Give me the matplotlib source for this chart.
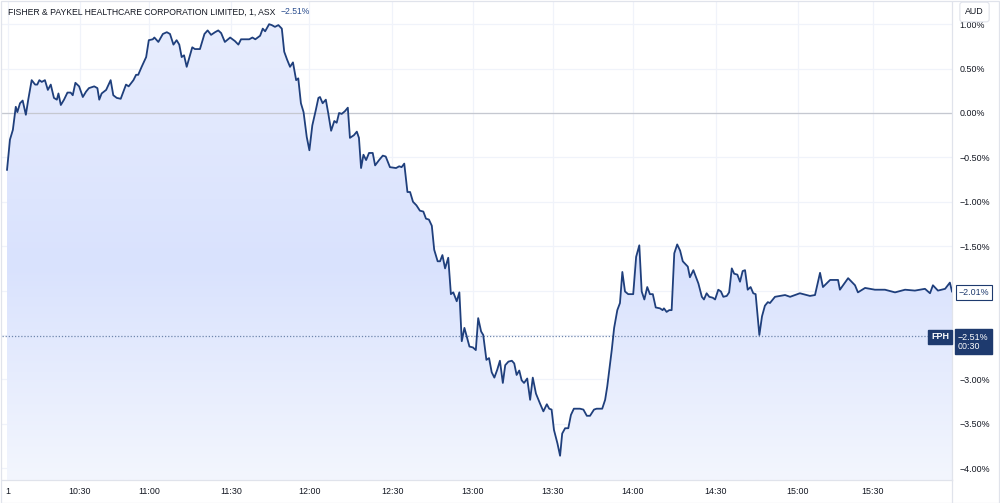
import numpy as np
import matplotlib
matplotlib.use("Agg")
import matplotlib.pyplot as plt
from matplotlib.colors import LinearSegmentedColormap
from matplotlib.patches import PathPatch, Rectangle

# ---------------- data ----------------
title = "FISHER & PAYKEL HEALTHCARE CORPORATION LIMITED, 1, ASX"
change_label = "−2.51%"
currency = "AUD"
symbol = "FPH"
ref_value = -2.51        # dotted reference level
ref_countdown = "00:30"
last_value = -2.01

# session position (1-minute bar index, estimated) and % change
t = [0, 1.1, 2.2, 3.3, 3.9, 4.9, 5.9, 7.1, 8.0, 9.3,
     10.6, 11.4, 12.2, 13.1, 14.3, 15.4, 16.5, 17.7, 18.8, 19.4,
     20.3, 21.5, 22.8, 24.0, 24.8, 25.8, 27.2, 28.6, 29.8, 30.9,
     32.9, 34.1, 34.8, 35.7, 37.4, 39.1, 40.1, 41.4, 42.9, 44.9,
     45.9, 47.7, 48.7, 49.5, 50.8, 52.5, 53.5, 55.0, 55.6, 57.1,
     58.8, 60.3, 61.5, 62.8, 64.0, 65.0, 65.9, 66.8, 67.8, 69.9,
     70.9, 72.8, 74.5, 75.7, 77.0, 78.5, 79.7, 80.8, 82.2, 84.2,
     86.0, 87.3, 88.3, 91.4, 92.6, 93.7, 95.5, 96.5, 97.4, 98.9,
     99.9, 101.1, 102.4, 103.7, 104.6, 105.7, 106.8, 107.9, 109.1, 109.9,
     110.9, 111.9, 113.1, 114.1, 115.2, 116.5, 117.5, 118.1, 119.1, 120.3,
     121.2, 122.3, 123.5, 124.4, 125.3, 126.3, 127.5, 128.6, 129.4, 130.9,
     132.0, 132.8, 133.6, 134.5, 135.5, 136.6, 138.0, 138.9, 140.4, 141.8,
     142.9, 144.5, 146.8, 148.0, 148.9, 149.9, 151.1, 152.1, 153.2, 154.5,
     155.8, 157.1, 158.1, 159.2, 160.3, 161.2, 162.5, 163.4, 164.3, 165.3,
     166.5, 167.5, 168.4, 169.7, 170.7, 171.6, 172.6, 174.5, 175.8, 176.9,
     177.8, 178.9, 179.7, 180.9, 181.9, 182.9, 183.9, 185.0, 186.0, 187.1,
     188.0, 189.2, 190.5, 191.4, 192.3, 193.3, 194.2, 195.1, 196.3, 197.4,
     198.4, 199.6, 201.1, 202.4, 203.7, 204.6, 205.5, 206.4, 207.7, 208.7,
     209.5, 210.6, 211.8, 212.8, 213.9, 216.2, 217.5, 218.8, 220.0, 221.5,
     222.5, 224.6, 225.7, 226.5, 227.5, 228.2, 229.1, 230.3, 231.3, 232.2,
     233.2, 234.4, 236.3, 237.4, 238.6, 239.5, 240.5, 241.6, 242.6, 243.7,
     244.8, 246.4, 247.4, 247.9, 248.9, 249.9, 250.8, 251.8, 252.9, 254.0,
     255.0, 256.9, 257.7, 259.0, 260.9, 262.2, 263.0, 264.0, 265.0, 266.3,
     267.2, 268.4, 269.4, 270.3, 271.6, 272.5, 273.5, 274.4, 275.6, 276.6,
     277.6, 278.5, 279.5, 280.6, 281.6, 282.5, 283.9, 284.9, 286.0, 287.1,
     287.9, 289.8, 293.6, 295.5, 299.2, 303.0, 304.9, 306.8, 307.9, 310.6,
     313.6, 314.3, 317.4, 320.0, 321.1, 323.8, 327.5, 331.3, 335.1, 338.9,
     342.6, 346.4, 348.3, 349.4, 351.3, 354.0, 355.8, 356.6]

v = [-0.64, -0.30, -0.19, 0.07, 0.01, 0.11, 0.14, -0.02, 0.15, 0.37,
     0.32, 0.32, 0.37, 0.35, 0.37, 0.26, 0.32, 0.17, 0.15, 0.22,
     0.09, 0.15, 0.23, 0.23, 0.20, 0.34, 0.30, 0.18, 0.24, 0.28,
     0.30, 0.28, 0.15, 0.22, 0.26, 0.37, 0.20, 0.17, 0.16, 0.32,
     0.30, 0.37, 0.43, 0.43, 0.52, 0.63, 0.82, 0.83, 0.85, 0.80,
     0.89, 0.91, 0.89, 0.77, 0.82, 0.77, 0.63, 0.65, 0.52, 0.74,
     0.72, 0.72, 0.89, 0.93, 0.88, 0.91, 0.93, 0.90, 0.80, 0.85,
     0.81, 0.77, 0.83, 0.83, 0.85, 0.83, 0.87, 0.95, 0.92, 1.00,
     0.99, 0.97, 0.99, 0.95, 0.69, 0.60, 0.52, 0.57, 0.37, 0.39,
     0.11, 0.01, -0.27, -0.42, -0.14, 0.03, 0.17, 0.18, 0.11, 0.15,
     0.00, -0.20, -0.09, -0.11, 0.00, -0.01, 0.02, 0.06, -0.28, -0.25,
     -0.21, -0.28, -0.62, -0.47, -0.53, -0.45, -0.45, -0.59, -0.53, -0.48,
     -0.49, -0.61, -0.62, -0.60, -0.61, -0.57, -0.89, -0.89, -1.00, -1.04,
     -1.10, -1.11, -1.19, -1.20, -1.27, -1.54, -1.67, -1.67, -1.60, -1.75,
     -1.63, -2.04, -2.02, -2.12, -2.02, -2.57, -2.42, -2.63, -2.64, -2.67,
     -2.31, -2.46, -2.50, -2.78, -2.76, -2.92, -2.98, -2.89, -2.79, -3.04,
     -2.84, -2.80, -2.79, -2.82, -2.95, -2.90, -3.01, -3.04, -2.99, -3.23,
     -2.98, -3.16, -3.27, -3.36, -3.28, -3.33, -3.34, -3.57, -3.72, -3.86,
     -3.61, -3.55, -3.55, -3.40, -3.33, -3.33, -3.34, -3.41, -3.41, -3.34,
     -3.33, -3.33, -3.23, -3.08, -2.84, -2.67, -2.42, -2.22, -2.14, -1.79,
     -2.01, -2.04, -2.04, -1.62, -1.49, -2.01, -2.10, -1.96, -2.04, -2.04,
     -2.19, -2.20, -2.22, -2.20, -2.24, -2.22, -2.22, -1.58, -1.48, -1.55,
     -1.67, -1.73, -1.85, -1.77, -1.92, -2.07, -2.10, -2.03, -2.07, -2.08,
     -2.10, -1.99, -2.01, -2.07, -2.06, -2.02, -1.75, -1.81, -1.82, -1.90,
     -1.78, -1.77, -1.99, -1.96, -2.03, -2.04, -2.50, -2.29, -2.17, -2.13,
     -2.14, -2.07, -2.05, -2.07, -2.03, -2.06, -2.05, -1.80, -1.96, -1.88,
     -1.88, -1.99, -1.86, -1.94, -2.02, -1.97, -1.99, -1.99, -2.02, -1.99,
     -2.00, -1.98, -2.03, -1.94, -2.00, -1.98, -1.91, -2.01]

x_tick_pos = [0.4, 27.5, 53.6, 84.5, 114.0, 145.3, 175.8, 206.0, 236.2, 267.5, 298.5, 326.8]
x_tick_labels = ["1", "10:30", "11:00", "11:30", "12:00", "12:30", "13:00",
                 "13:30", "14:00", "14:30", "15:00", "15:30"]
y_ticks = [1.0, 0.5, 0.0, -0.5, -1.0, -1.5, -2.0, -2.5, -3.0, -3.5, -4.0]
y_hidden = [-2.0, -2.5]   # labels covered by the price boxes

# ---------------- style ----------------
plt.rcParams["font.family"] = ["Liberation Sans", "DejaVu Sans"]
FS = 6.4
LINE = "#1f3f7c"
NAVY = "#1e3a6e"
TXT = "#131722"
GRID = "#f0f3fa"
BORDER = "#e0e3eb"

W, H = 1000, 503
fig = plt.figure(figsize=(W / 100, H / 100), dpi=100)
ax = fig.add_axes([2 / W, 23 / H, 950 / W, 478 / H])

xmin, xmax = -1.9, 356.6
ymin, ymax = -4.133, 1.25

# gradient fill under the line
cmap = LinearSegmentedColormap.from_list(
    "area", [(0.0, "#f3f6fe"), (0.45, "#d9e2fd"), (1.0, "#e9eefe")])
grad = np.linspace(0, 1, 256).reshape(-1, 1)
im = ax.imshow(grad, extent=[xmin, xmax, ymin, ymax], origin="lower",
               aspect="auto", cmap=cmap, zorder=1, interpolation="bilinear")
poly = ax.fill_between(t, v, ymin, color="none", lw=0)
patch = PathPatch(poly.get_paths()[0], transform=ax.transData,
                  facecolor="none", edgecolor="none")
ax.add_patch(patch)
im.set_clip_path(patch)

ax.plot(t, v, color=LINE, lw=1.3, zorder=4, solid_joinstyle="round")

ax.set_xlim(xmin, xmax)
ax.set_ylim(ymin, ymax)

# grid
for xp in x_tick_pos:
    ax.axvline(xp, color=GRID, lw=0.9, zorder=0)
for yp in y_ticks:
    ax.axhline(yp, color=GRID, lw=0.9, zorder=0)
ax.axhline(0, color="#c5c8d0", lw=0.9, zorder=2)
ax.axhline(ref_value, color="#6f86ad", lw=0.9, ls=(0, (1, 1.5)), zorder=3)

# axes styling
for s in ["top", "left"]:
    ax.spines[s].set_visible(False)
for s in ["bottom", "right"]:
    ax.spines[s].set_color(BORDER)
    ax.spines[s].set_linewidth(0.9)

ax.set_xticks(x_tick_pos)
ax.set_xticklabels(x_tick_labels)
ax.set_yticks(y_ticks)
ax.set_yticklabels(["" if y in y_hidden else (f"{y:.2f}%").replace("-", "−")
                    for y in y_ticks])
ax.yaxis.tick_right()
ax.tick_params(axis="both", length=0, labelsize=FS, colors=TXT)
ax.tick_params(axis="y", pad=5.5)
ax.tick_params(axis="x", pad=5)

# title
ax.annotate(title, xy=(0, 1), xycoords="axes fraction", xytext=(6, -10),
            textcoords="offset pixels", fontsize=6.2, color=TXT, va="center", ha="left")
tt = ax.texts[-1]
fig.canvas.draw()
bb = tt.get_window_extent()
fig.text((bb.x1 + 5) / W, (bb.y0 + bb.height / 2) / H, change_label,
         fontsize=6.2, color="#2a4d8f", va="center", ha="left")

# last value label
ax.annotate(f"{last_value:.2f}%".replace("-", "−"), xy=(1, last_value),
            xycoords=("axes fraction", "data"), xytext=(7, -1), textcoords="offset pixels",
            fontsize=FS, color=NAVY, va="center", ha="left",
            bbox=dict(boxstyle="square,pad=0.3", fc="white", ec=NAVY, lw=0.8), zorder=6,
            annotation_clip=False)

# reference label boxes
ax.annotate(symbol, xy=(1, ref_value), xycoords=("axes fraction", "data"),
            xytext=(-3, -1), textcoords="offset pixels", fontsize=FS, color="white",
            fontweight="bold", va="center", ha="right",
            bbox=dict(boxstyle="square,pad=0.3", fc=NAVY, ec=NAVY), zorder=6,
            annotation_clip=False)
ax.annotate(f"{ref_value:.2f}%".replace("-", "−") + "\n" + ref_countdown,
            xy=(1, ref_value), xycoords=("axes fraction", "data"),
            xytext=(6, -6), textcoords="offset pixels", fontsize=FS, color="white",
            va="center", ha="left", linespacing=1.1,
            bbox=dict(boxstyle="square,pad=0.35", fc=NAVY, ec=NAVY), zorder=6,
            annotation_clip=False)

# currency box
fig.text(974.5 / W, 1 - 12 / H, currency, fontsize=FS, color=TXT, ha="center", va="center",
         bbox=dict(boxstyle="round,pad=0.6,rounding_size=0.3", fc="white", ec=BORDER, lw=0.8),
         zorder=10)

# figure border and axis separators
fig.add_artist(Rectangle((0.5 / W, 0.5 / H), (W - 1.5) / W, (H - 1.5) / H,
                         transform=fig.transFigure, fill=False, ec=BORDER, lw=0.9))
fig.add_artist(plt.Line2D([952 / W, 952 / W], [1 / H, 23 / H], transform=fig.transFigure,
                          color=BORDER, lw=0.9))

fig.savefig("out.png", dpi=100, facecolor="white")
